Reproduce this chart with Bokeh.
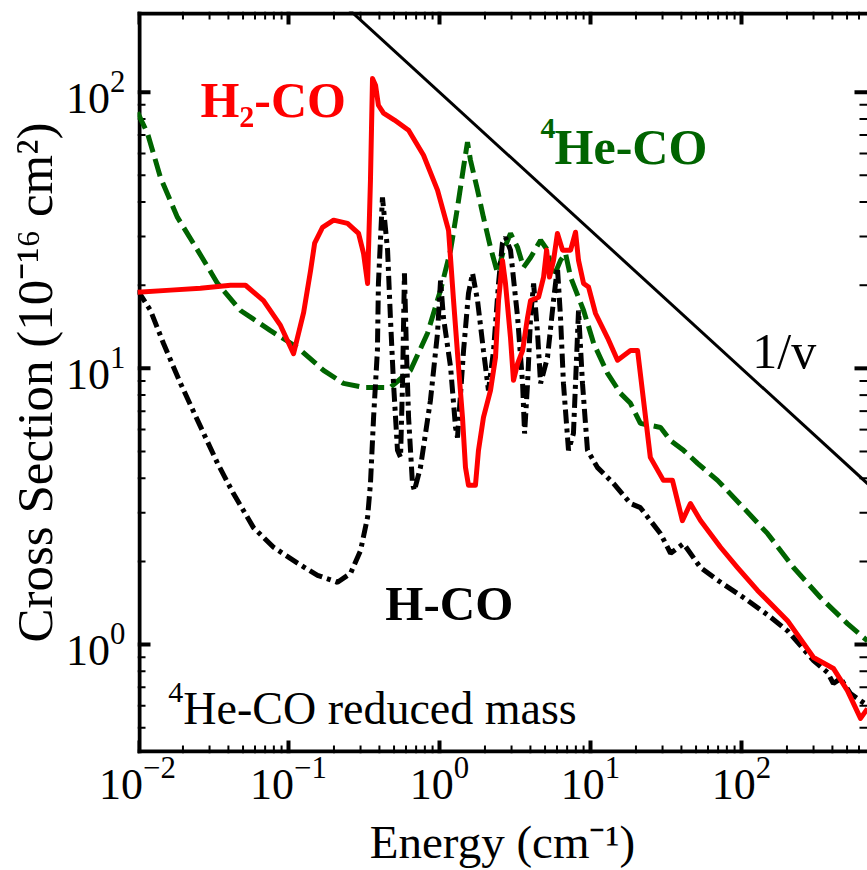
import math
from bokeh.plotting import figure
from bokeh.models import LogAxis, Label, Range1d, LogTicker
from bokeh.embed import file_html
from bokeh.resources import INLINE

# H2-CO (red, solid)
h2_E = [0.0100, 0.0166, 0.0261, 0.0413, 0.0519, 0.0683, 0.0885, 0.108, 0.126, 0.140,
        0.149, 0.168, 0.199, 0.246, 0.291, 0.314, 0.334, 0.349, 0.360, 0.377,
        0.394, 0.426, 0.503, 0.624, 0.784, 0.970, 1.148, 1.239, 1.337, 1.420,
        1.486, 1.556, 1.730, 1.812, 1.955, 2.177, 2.349, 2.460, 2.612, 2.735,
        2.953, 3.09, 3.29, 3.55, 3.83, 4.01, 4.53, 4.89, 5.12, 5.35,
        5.69, 6.04, 6.53, 7.38, 7.96, 8.33, 9.0, 9.71, 10.8, 12.97,
        15.1, 18.4, 20.5, 24.9, 30.4, 34.9, 40.6, 45.9, 53.5, 72.6,
        94.1, 127.7, 201.7, 300, 406, 503, 614, 683]
h2_s = [18.85, 19.2, 19.5, 20.0, 20.0, 17.6, 14.3, 11.3, 15.96, 22.6,
        28.4, 32.4, 34.4, 33.5, 30.8, 26.1, 20.3, 48, 112, 106,
        89.7, 84, 79.3, 72.8, 59.1, 44.2, 31.6, 17.6, 10.1, 6.64,
        4.38, 3.77, 3.77, 5.05, 6.64, 8.32, 10.96, 17.6, 24.6, 20.3,
        12.9, 9.05, 10.4, 11.6, 15.3, 17.6, 18.1, 21.4, 26.8, 21.4,
        24.6, 30.8, 26.8, 26.8, 31.1, 24.6, 20.3, 19.7, 15.8, 12.9,
        10.7, 11.6, 11.6, 4.76, 3.93, 3.93, 2.81, 3.24, 2.81, 2.25,
        1.90, 1.57, 1.22, 0.897, 0.819, 0.681, 0.540, 0.586]

# 4He-CO (green, dashed)
he_E = [0.0100, 0.01165, 0.01418, 0.0184, 0.0250, 0.0339, 0.0481, 0.0760, 0.1148, 0.1706,
        0.2313, 0.314, 0.473, 0.643, 0.833, 1.016, 1.184, 1.316, 1.443, 1.532,
        1.604, 1.786, 1.955, 2.177, 2.423, 2.655, 2.953, 3.29, 3.60, 4.01,
        4.67, 5.19, 5.69, 6.33, 6.83, 7.38, 9.0, 10.5, 12.97, 15.8,
        18.4, 21.4, 29.1, 33.9, 41.3, 51.2, 69.4, 103, 149, 221,
        333, 503, 683]
he_s = [84.6, 71.0, 49.2, 35.2, 26.8, 20.3, 16.2, 13.7, 11.9, 9.84,
        8.82, 8.53, 8.53, 9.84, 13.4, 19.2, 26.8, 38.3, 53.5, 65.9,
        56.7, 44.2, 35.2, 27.4, 22.1, 26.8, 30.8, 27.4, 23.2, 25.2,
        29.1, 26.8, 21.4, 24.6, 26.1, 21.4, 16.2, 12.3, 9.59, 8.12,
        7.47, 6.32, 6.11, 5.48, 5.05, 4.53, 3.93, 3.13, 2.52, 1.90,
        1.48, 1.19, 1.03]

# H-CO (black, dash-dot)
h_E = [0.0100, 0.0122, 0.01487, 0.01927, 0.0250, 0.0339, 0.0432, 0.0586, 0.0796, 0.1148,
       0.1557, 0.2113, 0.2576, 0.300, 0.334, 0.349, 0.366, 0.388, 0.394, 0.419,
       0.453, 0.473, 0.496, 0.527, 0.552, 0.569, 0.586, 0.604, 0.624, 0.662,
       0.682, 0.748, 0.871, 0.970, 1.016, 1.062, 1.184, 1.277, 1.316, 1.443,
       1.556, 1.655, 1.786, 1.955, 2.11, 2.28, 2.46, 2.61, 2.735, 2.953,
       3.29, 3.55, 3.66, 3.83, 4.01, 4.20, 4.46, 4.67, 5.19, 5.69,
       6.04, 6.33, 6.62, 7.15, 7.71, 8.33, 8.85, 9.55, 11.1, 14.2,
       18.4, 21.4, 29.1, 33.9, 41.3, 53.5, 69.4, 103, 149, 202,
       300, 371, 406, 453, 527, 683]
h_s = [19.2, 16.2, 12.3, 8.82, 6.48, 4.53, 3.52, 2.65, 2.25, 1.97,
       1.78, 1.68, 1.81, 2.19, 2.89, 3.83, 6.64, 11.6, 20.3, 41.6,
       26.8, 15.3, 8.82, 5.05, 4.76, 8.82, 22.1, 11.6, 6.64, 3.83,
       3.61, 4.38, 7.66, 13.4, 20.8, 15.3, 10.1, 6.11, 5.62, 11.6,
       18.7, 22.1, 17.6, 11.6, 8.32, 11.6, 20.3, 28.4, 29.8, 26.8,
       15.3, 8.82, 5.81, 8.82, 15.3, 20.3, 13.4, 8.82, 10.96, 17.6,
       23.2, 15.3, 8.82, 5.05, 5.81, 16.2, 8.82, 5.05, 4.38, 3.83,
       3.24, 3.13, 2.52, 2.14, 2.32, 1.90, 1.71, 1.48, 1.28, 1.12,
       0.875, 0.792, 0.722, 0.753, 0.664, 0.601]

# 1/v reference line
onev_E = [0.2, 700]
onev_s = [223.6, 3.78]

# axis ranges
x_lo, x_hi = 0.01, 683
y_lo, y_hi = 0.403, 196

FONT = "Liberation Serif"
W, H = 867, 870
BL, BR, BT, BB = 137, 0, 11, 117

p = figure(width=W, height=H, x_axis_type="log", y_axis_type="log",
           x_axis_location=None, y_axis_location=None,
           x_range=Range1d(x_lo, x_hi), y_range=Range1d(y_lo, y_hi),
           output_backend="svg", toolbar_location=None,
           min_border_left=BL, min_border_right=BR, min_border_top=BT, min_border_bottom=BB)
p.outline_line_color = None
p.grid.visible = False
p.border_fill_color = "white"
p.background_fill_color = "white"


def make_axis():
    ax = LogAxis(ticker=LogTicker(num_minor_ticks=10))
    ax.axis_line_color = None
    ax.major_tick_line_color = None
    ax.minor_tick_line_color = None
    ax.major_tick_in = 0
    ax.major_tick_out = 0
    ax.minor_tick_in = 0
    ax.minor_tick_out = 0
    ax.major_label_text_font = FONT
    ax.major_label_text_color = "black"
    ax.major_label_text_font_size = "44px"
    ax.axis_label_text_font = FONT
    ax.axis_label_text_font_style = "normal"
    ax.axis_label_text_color = "black"
    return ax


bottom = make_axis()
bottom.axis_label = "Energy (cm⁻¹)"
bottom.axis_label_text_font_size = "47px"
bottom.major_label_standoff = 4
bottom.axis_label_standoff = 14
p.add_layout(bottom, "below")

left = make_axis()
left.axis_label = "Cross Section (10⁻¹⁶ cm²)"
left.axis_label_text_font_size = "51px"
left.major_label_standoff = 12
left.axis_label_standoff = 0
p.add_layout(left, "left")

# pixels per decade of the frame, to size ticks and frame lines in screen pixels
fx = (W - BL - BR) / math.log10(x_hi / x_lo)
fy = (H - BT - BB) / math.log10(y_hi / y_lo)
kx = lambda px: 10 ** (px / fx)
ky = lambda px: 10 ** (px / fy)


def log_ticks(lo, hi):
    k0, k1 = math.floor(math.log10(lo)), math.ceil(math.log10(hi))
    majors = [10.0 ** k for k in range(k0, k1 + 1) if lo <= 10.0 ** k <= hi]
    minors = [m * 10.0 ** k for k in range(k0, k1 + 1) for m in range(2, 10)
              if lo <= m * 10.0 ** k <= hi]
    return majors, minors


xmaj, xmin = log_ticks(x_lo, x_hi)
ymaj, ymin = log_ticks(y_lo, y_hi)

# inward ticks drawn as small filled boxes on all four sides
for vals, length, width in [(xmaj, 13, 4), (xmin, 8, 2)]:
    n = len(vals)
    l = [v / kx(width / 2) for v in vals]
    r = [v * kx(width / 2) for v in vals]
    p.quad(left=l, right=r, bottom=[y_lo] * n, top=[y_lo * ky(length)] * n,
           fill_color="black", line_color=None)
    p.quad(left=l, right=r, bottom=[y_hi / ky(length)] * n, top=[y_hi] * n,
           fill_color="black", line_color=None)
for vals, length, width in [(ymaj, 13, 4), (ymin, 8, 2)]:
    n = len(vals)
    b = [v / ky(width / 2) for v in vals]
    t = [v * ky(width / 2) for v in vals]
    p.quad(left=[x_lo] * n, right=[x_lo * kx(length)] * n, bottom=b, top=t,
           fill_color="black", line_color=None)
    p.quad(left=[x_hi / kx(length)] * n, right=[x_hi] * n, bottom=b, top=t,
           fill_color="black", line_color=None)

# frame lines: left, bottom, top (the right edge is cropped in the original)
p.quad(left=[x_lo, x_lo, x_lo], right=[x_lo * kx(4), x_hi, x_hi],
       bottom=[y_lo, y_lo, y_hi / ky(4)], top=[y_hi, y_lo * ky(4), y_hi],
       fill_color="black", line_color=None)

p.line(he_E, he_s, line_color="#006400", line_width=5, line_dash="18 7")
p.line(h_E, h_s, line_color="black", line_width=5, line_dash="14 5 4 5")
p.line(h2_E, h2_s, line_color="red", line_width=5, line_join="round")
p.line(onev_E, onev_s, line_color="black", line_width=3)

# (x, y, text, colour, style, size, x_offset, y_offset)
labels = [
    (0.0261, 93.5, "H₂-CO", "red", "bold", "50px", 0, 0),
    (4.67, 63.2, "4", "#006400", "bold", "30px", 0, 19),
    (4.67, 63.2, "He-CO", "#006400", "bold", "50px", 14, 0),
    (118, 11.6, "1/v", "black", "normal", "50px", 0, 0),
    (0.438, 1.41, "H-CO", "black", "bold", "49px", 0, 0),
    (0.016, 0.586, "4", "black", "normal", "30px", 0, 16),
    (0.016, 0.586, "He-CO reduced mass", "black", "normal", "46px", 15, 0),
]
for x, y, t, c, st, fs, dx, dy in labels:
    p.add_layout(Label(x=x, y=y, text=t, text_color=c, text_font=FONT,
                       text_font_style=st, text_font_size=fs,
                       x_offset=dx, y_offset=dy,
                       text_baseline="alphabetic", text_align="left"))

open("out.html", "w").write(file_html(p, INLINE))
